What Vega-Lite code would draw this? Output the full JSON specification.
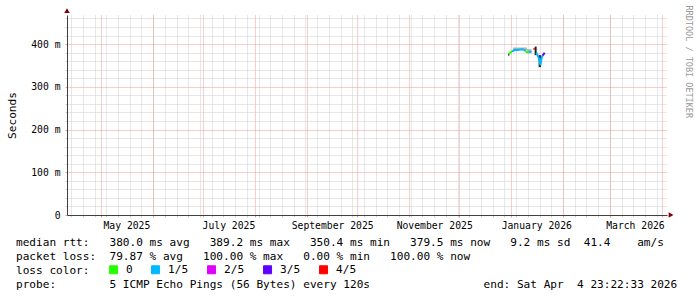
{
  "$schema": "https://vega.github.io/schema/vega-lite/v6.json",
  "width": 600,
  "height": 200,
  "autosize": {"type": "none"},
  "padding": {"left": 67, "top": 15, "right": 30, "bottom": 82},
  "background": "white",
  "config": {"view": {"stroke": null}, "font": "DejaVu Sans Mono"},
  "title": {
    "text": [
      "median rtt:\u00a0\u00a0\u00a0380.0 ms avg\u00a0\u00a0\u00a0389.2 ms max\u00a0\u00a0\u00a0350.4 ms min\u00a0\u00a0\u00a0379.5 ms now\u00a0\u00a0\u00a09.2 ms sd\u00a0\u00a041.4\u00a0\u00a0\u00a0\u00a0am/s",
      "packet loss:\u00a0\u00a079.87 % avg\u00a0\u00a0\u00a0100.00 % max\u00a0\u00a0\u00a00.00 % min\u00a0\u00a0\u00a0100.00 % now",
      "loss color:",
      "probe:\u00a0\u00a0\u00a0\u00a0\u00a0\u00a0\u00a0\u00a05 ICMP Echo Pings (56 Bytes) every 120s\u00a0\u00a0\u00a0\u00a0\u00a0\u00a0\u00a0\u00a0\u00a0\u00a0\u00a0\u00a0\u00a0\u00a0\u00a0\u00a0\u00a0end: Sat Apr\u00a0\u00a04 23:22:33 2026"
    ],
    "orient": "bottom",
    "anchor": "start",
    "frame": "group",
    "dx": -51,
    "offset": -39,
    "font": "DejaVu Sans Mono",
    "fontSize": 11.1,
    "fontWeight": "normal",
    "color": "black",
    "lineHeight": 14,
    "baseline": "top"
  },
  "datasets": {
    "smoke": [
      {"t": "2025-12-30T02:10:00", "t2": "2025-12-30T23:40:00", "lo": 373, "hi": 377, "level": "dark"},
      {"t": "2026-01-02T01:50:00", "t2": "2026-01-10T10:40:00", "lo": 386, "hi": 392, "level": "light"},
      {"t": "2026-01-10T10:40:00", "t2": "2026-01-13T03:15:00", "lo": 378, "hi": 388, "level": "light"},
      {"t": "2026-01-15T01:10:00", "t2": "2026-01-16T05:50:00", "lo": 374, "hi": 394, "level": "dark"},
      {"t": "2026-01-17T10:30:00", "t2": "2026-01-18T19:30:00", "lo": 346, "hi": 374, "level": "dark"}
    ],
    "median": [
      {"t": "2025-12-30T09:15:00", "rtt": 376, "loss": "0", "seg": "A"},
      {"t": "2025-12-31T06:50:00", "rtt": 379, "loss": "0", "seg": "A"},
      {"t": "2026-01-01T11:30:00", "rtt": 383, "loss": "0", "seg": "A"},
      {"t": "2026-01-01T11:30:00", "rtt": 383, "loss": "1/5", "seg": "B"},
      {"t": "2026-01-02T16:10:00", "rtt": 385, "loss": "1/5", "seg": "B"},
      {"t": "2026-01-03T20:50:00", "rtt": 386.5, "loss": "1/5", "seg": "B"},
      {"t": "2026-01-05T01:30:00", "rtt": 386, "loss": "1/5", "seg": "B"},
      {"t": "2026-01-06T06:15:00", "rtt": 387, "loss": "1/5", "seg": "B"},
      {"t": "2026-01-07T11:00:00", "rtt": 388, "loss": "1/5", "seg": "B"},
      {"t": "2026-01-08T15:40:00", "rtt": 386.5, "loss": "1/5", "seg": "B"},
      {"t": "2026-01-09T20:20:00", "rtt": 384, "loss": "1/5", "seg": "B"},
      {"t": "2026-01-09T13:10:00", "rtt": 382.5, "loss": "0", "seg": "C"},
      {"t": "2026-01-10T10:40:00", "rtt": 381.5, "loss": "0", "seg": "C"},
      {"t": "2026-01-11T15:20:00", "rtt": 381, "loss": "0", "seg": "C"},
      {"t": "2026-01-11T15:20:00", "rtt": 381, "loss": "1/5", "seg": "D"},
      {"t": "2026-01-12T05:45:00", "rtt": 382.5, "loss": "1/5", "seg": "D"},
      {"t": "2026-01-13T03:15:00", "rtt": 381.5, "loss": "1/5", "seg": "D"},
      {"t": "2026-01-14T07:55:00", "rtt": 389.2, "loss": "4/5", "seg": "E"},
      {"t": "2026-01-15T01:10:00", "rtt": 388, "loss": "4/5", "seg": "E"},
      {"t": "2026-01-16T02:55:00", "rtt": 380, "loss": "1/5", "seg": "F"},
      {"t": "2026-01-17T00:30:00", "rtt": 372, "loss": "1/5", "seg": "F"},
      {"t": "2026-01-17T22:00:00", "rtt": 362, "loss": "1/5", "seg": "F"},
      {"t": "2026-01-18T12:20:00", "rtt": 350.4, "loss": "1/5", "seg": "F"},
      {"t": "2026-01-19T02:40:00", "rtt": 366, "loss": "1/5", "seg": "F"},
      {"t": "2026-01-19T17:00:00", "rtt": 373, "loss": "1/5", "seg": "F"},
      {"t": "2026-01-19T17:00:00", "rtt": 373, "loss": "3/5", "seg": "H"},
      {"t": "2026-01-20T14:35:00", "rtt": 377, "loss": "3/5", "seg": "H"},
      {"t": "2026-01-21T00:40:00", "rtt": 379.5, "loss": "3/5", "seg": "H"}
    ]
  },
  "layer": [
    {
      "data": {"name": "smoke"},
      "mark": {"type": "rect"},
      "encoding": {
        "x": {
          "field": "t", "type": "temporal",
          "scale": {"domain": [{"year": 2025, "month": 4, "date": 10, "hours": 12}, {"year": 2026, "month": 4, "date": 4, "hours": 4}], "nice": false},
          "axis": {"orient": "bottom", "tickCount": {"interval": "week", "step": 1}, "grid": true, "gridColor": "#cfcfcf", "gridDash": [1, 1], "gridWidth": 1, "labels": false, "ticks": true, "tickSize": 2, "tickColor": "#cfcfcf", "domain": false, "title": null}
        },
        "x2": {"field": "t2"},
        "y": {
          "field": "lo", "type": "quantitative",
          "scale": {"domain": [0, 468], "nice": false},
          "axis": {"orient": "left", "values": [20, 40, 60, 80, 120, 140, 160, 180, 220, 240, 260, 280, 320, 340, 360, 380, 420, 440, 460], "grid": true, "gridColor": "#cfcfcf", "gridDash": [1, 1], "gridWidth": 1, "labels": false, "ticks": true, "tickSize": 2, "tickColor": "#cfcfcf", "domain": false, "title": null}
        },
        "y2": {"field": "hi"},
        "fill": {"field": "level", "type": "nominal", "scale": {"domain": ["light", "dark"], "range": ["#b4b4b4", "#202020"]}, "legend": null}
      }
    },
    {
      "data": {"name": "median"},
      "mark": {"type": "line", "strokeWidth": 2},
      "encoding": {
        "x": {
          "field": "t", "type": "temporal",
          "scale": {"domain": [{"year": 2025, "month": 4, "date": 10, "hours": 12}, {"year": 2026, "month": 4, "date": 4, "hours": 4}], "nice": false},
          "axis": {"orient": "bottom", "tickCount": {"interval": "month", "step": 1}, "grid": true, "gridColor": "#f09a9a", "gridDash": [1, 1], "gridWidth": 1, "labels": false, "ticks": true, "tickSize": 2, "tickColor": "#f09a9a", "domain": false, "title": null}
        },
        "y": {
          "field": "rtt", "type": "quantitative",
          "scale": {"domain": [0, 468], "nice": false},
          "axis": {"orient": "left", "values": [0, 100, 200, 300, 400], "grid": true, "gridColor": "#f09a9a", "gridDash": [1, 1], "gridWidth": 1, "ticks": true, "tickSize": 2, "tickColor": "#f09a9a", "domain": true, "domainColor": "#404040", "domainWidth": 1, "labelExpr": "datum.value == 0 ? '0\u00a0\u00a0' : datum.value + ' m'", "labelFont": "DejaVu Sans Mono", "labelFontSize": 9.72, "labelColor": "black", "labelPadding": 5, "title": "Seconds", "titleFont": "DejaVu Sans Mono", "titleFontSize": 11.1, "titleFontWeight": "normal", "titleColor": "black", "titleAngle": -90, "titleX": -52, "titleY": 100, "titleAlign": "center", "titleBaseline": "alphabetic"}
        },
        "color": {
          "field": "loss", "type": "nominal",
          "scale": {"domain": ["0", "1/5", "2/5", "3/5", "4/5"], "range": ["#26ff00", "#00b8ff", "#dd00ff", "#5e00ff", "#ff0000"]},
          "legend": {"orient": "none", "legendX": 41, "legendY": 249, "direction": "horizontal", "title": null, "labelFont": "DejaVu Sans Mono", "labelFontSize": 11.1, "labelColor": "black", "labelOffset": 7, "columnPadding": 16, "symbolType": "square", "symbolSize": 64, "symbolStrokeColor": "black", "symbolStrokeWidth": 1, "padding": 0,
            "encode": {"symbols": {"update": {"fill": {"scale": "color", "field": "value"}, "stroke": {"value": "black"}, "strokeWidth": {"value": 1}, "opacity": {"value": 1}, "fillOpacity": {"value": 1}, "shape": {"value": "square"}, "size": {"value": 64}}}}}
        },
        "detail": {"field": "seg"}
      }
    },
    {
      "data": {"values": [{}]},
      "mark": {"type": "point", "shape": "triangle-up", "filled": true, "size": 30, "color": "#7f0000", "opacity": 1},
      "encoding": {
        "x": {
          "datum": {"year": 2025, "month": 4, "date": 10, "hours": 12}, "type": "temporal",
          "scale": {"domain": [{"year": 2025, "month": 4, "date": 10, "hours": 12}, {"year": 2026, "month": 4, "date": 4, "hours": 4}], "nice": false},
          "axis": {"orient": "bottom", "values": [{"year": 2025, "month": 5, "date": 16}, {"year": 2025, "month": 7, "date": 16}, {"year": 2025, "month": 9, "date": 16}, {"year": 2025, "month": 11, "date": 16}, {"year": 2026, "month": 1, "date": 16}, {"year": 2026, "month": 3, "date": 16}], "format": "%B %Y", "grid": false, "ticks": false, "domain": true, "domainColor": "#404040", "domainWidth": 1, "labelFont": "DejaVu Sans Mono", "labelFontSize": 9.72, "labelColor": "black", "labelPadding": 5, "labelAlign": "center", "labelBaseline": "top", "labelOverlap": false, "labelFlush": false, "title": null}
        },
        "y": {
          "datum": 478, "type": "quantitative",
          "scale": {"domain": [0, 468], "nice": false},
          "axis": {"orient": "right", "values": [], "labels": false, "ticks": false, "grid": false, "domain": false, "title": "RRDTOOL / TOBI OETIKER", "titleFont": "DejaVu Sans Mono", "titleFontSize": 8.5, "titleFontWeight": "normal", "titleColor": "#999999", "titleAngle": 90, "titleX": 18, "titleY": -10, "titleAlign": "left", "titleBaseline": "alphabetic"}
        }
      }
    },
    {
      "data": {"values": [{}]},
      "mark": {"type": "point", "shape": "triangle-right", "filled": true, "size": 30, "color": "#7f0000", "opacity": 1},
      "encoding": {
        "x": {"datum": {"year": 2026, "month": 4, "date": 6, "hours": 14}, "type": "temporal", "axis": null},
        "y": {"datum": 0, "type": "quantitative", "axis": null}
      }
    }
  ],
  "resolve": {"axis": {"x": "independent", "y": "independent"}}
}
